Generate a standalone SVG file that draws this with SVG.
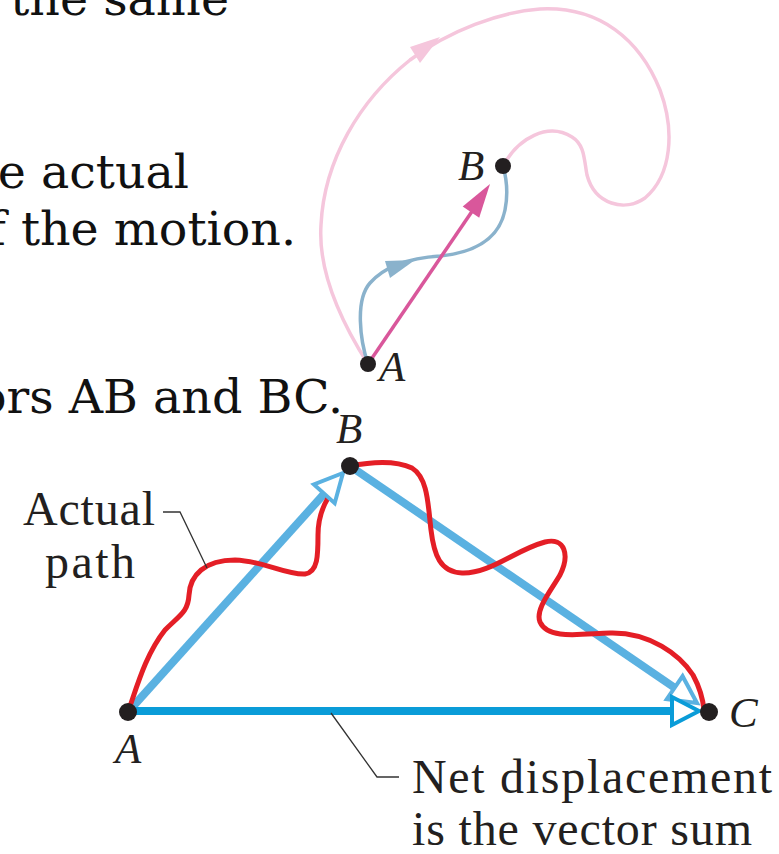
<svg xmlns="http://www.w3.org/2000/svg" width="779" height="854" viewBox="0 0 779 854">
<style>
.bt{font-family:"DejaVu Serif",serif;font-size:47.5px;fill:#111;text-anchor:end}
.lb{font-family:"Liberation Serif",serif;font-style:italic;font-size:43px;fill:#231f20}
.cap{font-family:"Liberation Serif",serif;font-size:48px;fill:#231f20}
.lead{fill:none;stroke:#333;stroke-width:1.3}
.dot{fill:#231f20}
.red{fill:none;stroke:#e41e26;stroke-width:5;stroke-linecap:round}
.hh{fill:#fff;stroke-width:4;stroke-linejoin:miter}
</style>
<rect width="779" height="854" fill="#fff"/>
<g id="text-fragments">
<text class="bt" x="229" y="15">the same</text>
<text class="bt" x="189" y="188">e actual</text>
<text class="bt" x="296" y="245">f the motion.</text>
<text class="bt" x="343" y="413">ors AB and BC.</text>
</g>
<g id="connectors">
<g id="top-paths">
<path d="M368,364 C340,320 318,270 321,225 C324,160 360,100 410,60 C450,30 500,12 540,9 C600,6 640,40 660,90 C675,130 672,175 645,198 C625,212 595,205 587,175 C584,160 585,145 572,137 C548,122 518,138 503,166" fill="none" stroke="#f5c6dc" stroke-width="3.5"/>
<polygon points="440,37 410,47 420,63" fill="#f5c6dc"/>
<path d="M368,364 C360,340 355,300 370,283 C385,266 410,258 440,256 C480,252 500,235 505,210 C508,195 507,180 503,166" fill="none" stroke="#8ab2cc" stroke-width="3.5"/>
<polygon points="415,260 385,261 390,278" fill="#8ab2cc"/>
<line x1="368" y1="364" x2="475" y2="207" stroke="#d9579b" stroke-width="3.5"/>
<polygon points="490,184 479.2,217.7 462.7,206.4" fill="#d9579b"/>
</g>
<g id="bottom-vectors">
<line x1="128" y1="712" x2="324" y2="494" stroke="#5ab1e1" stroke-width="8"/>
<line x1="350" y1="466" x2="675" y2="688" stroke="#5ab1e1" stroke-width="8"/>
<line x1="128" y1="711" x2="672" y2="711" stroke="#0a9cd8" stroke-width="8"/>
<path class="red" d="M128,712 C136,690 145,655 165,630 C180,615 188,612 189,595 C190,575 205,560 235,560 C265,561 285,575 305,574 C318,572 318,555 318,535 C318,520 322,508 328,498"/>
<path class="red" d="M350,466 C370,462 395,460 412,468 C428,478 428,505 431,530 C434,555 440,572 462,573 C490,574 515,550 545,542 C565,537 570,555 560,575 C550,592 535,610 540,622 C548,640 580,634 610,633 C650,632 680,655 693,675 C700,688 703,700 704,710"/>
<polygon class="hh" points="343,473 334.7,503.2 313.9,484.4" stroke="#5ab1e1"/>
<polygon class="hh" points="697,703 666.8,699.2 682.6,676.2" stroke="#5ab1e1"/>
<polygon class="hh" points="699,711 672,697 672,725" stroke="#0a9cd8"/>
</g>
<path class="lead" d="M163,512 H180 L207,568"/>
<path class="lead" d="M331,713 L377,777 H399"/>
</g>
<g id="node-top-A"><circle class="dot" cx="368" cy="364" r="8"/><text class="lb" x="379" y="381">A</text></g>
<g id="node-top-B"><circle class="dot" cx="503" cy="166" r="8"/><text class="lb" x="458" y="180">B</text></g>
<g id="node-A"><circle class="dot" cx="128" cy="712" r="9"/><text class="lb" x="115" y="763">A</text></g>
<g id="node-B"><circle class="dot" cx="350" cy="466" r="9"/><text class="lb" x="336" y="443">B</text></g>
<g id="node-C"><circle class="dot" cx="709" cy="712" r="9"/><text class="lb" x="729" y="727">C</text></g>
<g id="label-actual-path">
<text class="cap" x="23" y="525" textLength="132">Actual</text>
<text class="cap" x="45" y="578" textLength="90">path</text>
</g>
<g id="label-net">
<text class="cap" x="412" y="793" textLength="360">Net displacement</text>
<text class="cap" x="412" y="845" textLength="340">is the vector sum</text>
</g>
</svg>
